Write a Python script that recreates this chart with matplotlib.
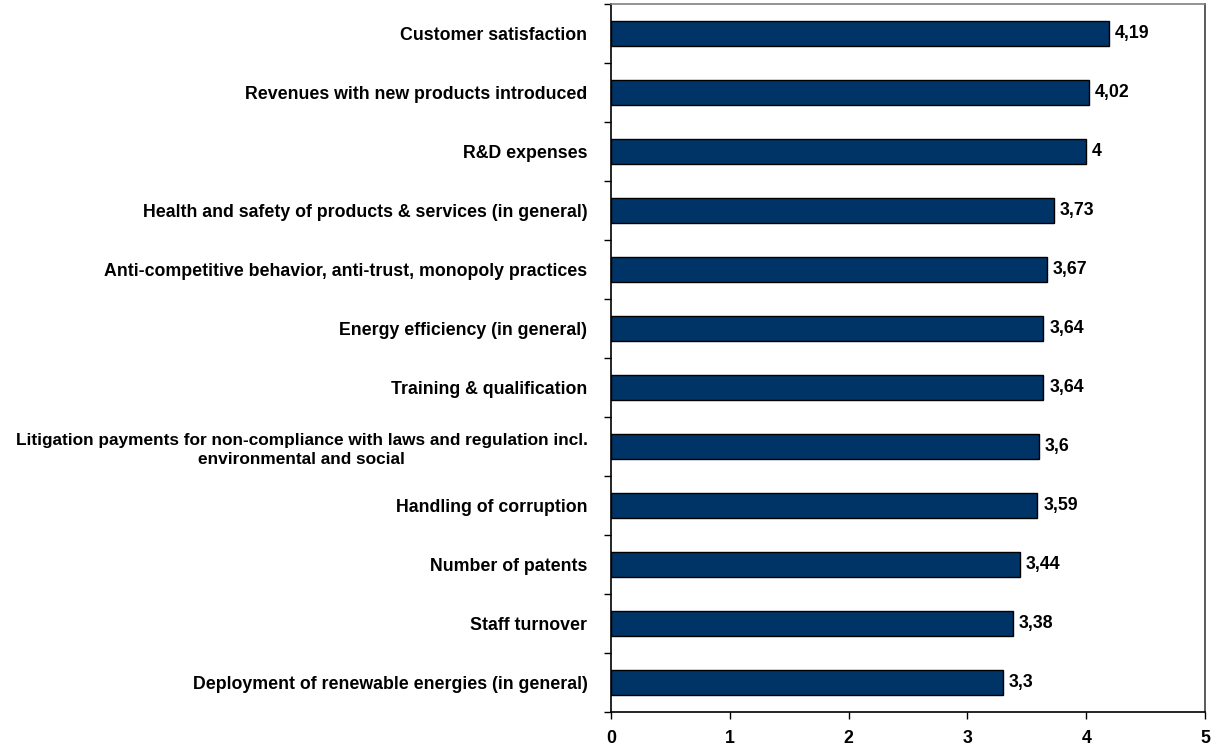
import matplotlib.pyplot as plt
import numpy as np

plt.rcParams['font.family'] = ['Liberation Sans', 'DejaVu Sans']

categories = [
    "Customer satisfaction",
    "Revenues with new products introduced",
    "R&D expenses",
    "Health and safety of products & services (in general)",
    "Anti-competitive behavior, anti-trust, monopoly practices",
    "Energy efficiency (in general)",
    "Training & qualification",
    "Litigation payments for non-compliance with laws and regulation incl.\nenvironmental and social",
    "Handling of corruption",
    "Number of patents",
    "Staff turnover",
    "Deployment of renewable energies (in general)",
]
values = [4.19, 4.02, 4.0, 3.73, 3.67, 3.64, 3.64, 3.6, 3.59, 3.44, 3.38, 3.3]
x_ticks = [0, 1, 2, 3, 4, 5]

fig = plt.figure(figsize=(12.13, 7.47), dpi=100)
ax = fig.add_axes([611 / 1213, 1 - 712 / 747, (1205 - 611) / 1213, (712 - 4) / 747])

n = len(categories)
y = np.arange(n)[::-1]
ax.barh(y, values, height=0.42, color='#003366', edgecolor='black', linewidth=1.0)

for yi, v in zip(y, values):
    label = f"{v:g}".replace('.', ',')
    ax.text(v + 0.05, yi, label, va='center', ha='left', fontsize=12.8, fontweight='bold')

ax.set_xlim(0, 5)
ax.set_ylim(-0.5, n - 0.5)
ax.set_xticks(x_ticks)
ax.set_xticklabels([str(t) for t in x_ticks], fontsize=12.8, fontweight='bold')
ax.tick_params(axis='x', direction='out', length=5, width=1, pad=8)

ax.set_yticks(y)
ax.set_yticklabels(categories, fontsize=12.8, fontweight='bold')
for lbl in ax.get_yticklabels():
    lbl.set_horizontalalignment('right')
    lbl.set_multialignment('center')
    lbl.set_linespacing(1.3)
    if '\n' in lbl.get_text():
        lbl.set_fontsize(12.4)
ax.tick_params(axis='y', which='major', length=0, pad=17)

# boundary ticks between categories
ax.set_yticks(np.arange(-0.5, n, 1.0), minor=True)
ax.tick_params(axis='y', which='minor', direction='out', length=5, width=1)

for side in ('left', 'bottom'):
    ax.spines[side].set_color('black')
    ax.spines[side].set_linewidth(1.2)
ax.spines['top'].set_color('#808080')
ax.spines['right'].set_color('#404040')
ax.spines['top'].set_linewidth(1.2)
ax.spines['right'].set_linewidth(1.2)

fig.savefig('out.png', dpi=100)
